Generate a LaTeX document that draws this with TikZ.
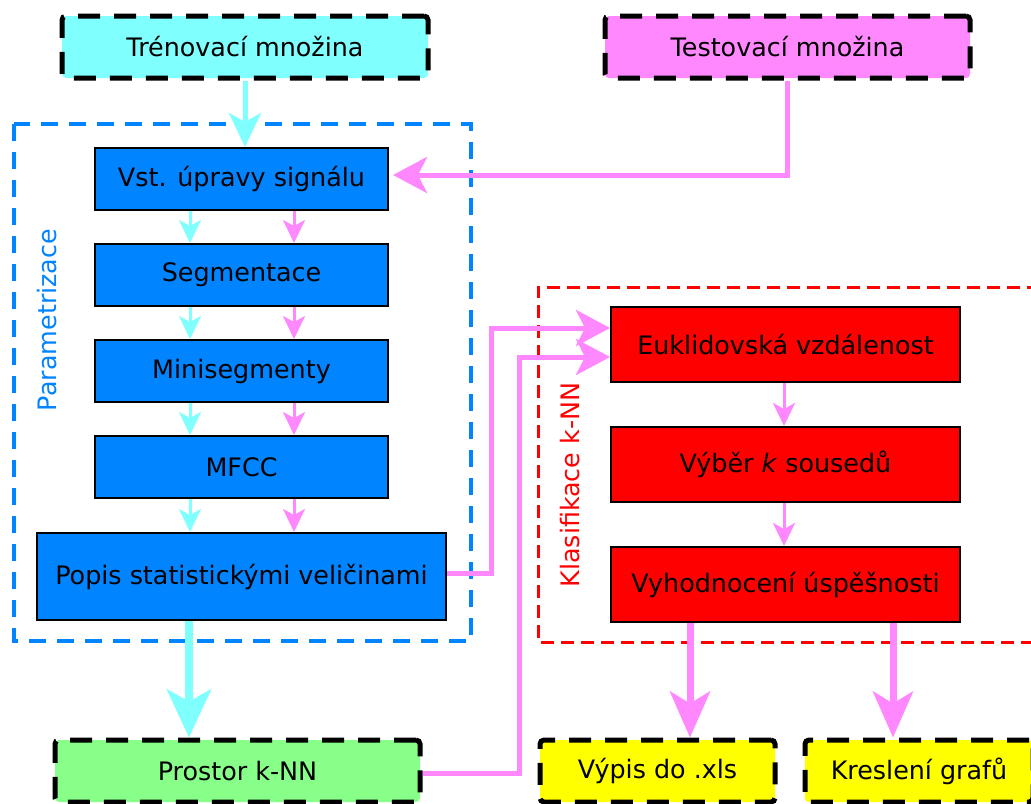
\documentclass[tikz,border=0pt]{standalone}
\usepackage{fontspec}
\setmainfont{DejaVu Sans}
\usetikzlibrary{arrows.meta,calc}
\definecolor{cyanc}{RGB}{128,255,255}
\definecolor{magc}{RGB}{255,136,255}
\definecolor{bluec}{RGB}{0,132,255}
\definecolor{greenc}{RGB}{136,255,136}
\definecolor{yelc}{RGB}{255,255,0}
\definecolor{redc}{RGB}{255,0,0}
\tikzset{
  blk/.style={draw=black, line width=1pt, fill=bluec, minimum width=146.5pt, minimum height=31pt, inner sep=0pt},
  redbox/.style={draw=black, line width=1pt, fill=redc, minimum width=174.5pt, minimum height=37.5pt, inner sep=0pt},
  term/.style={draw=black, line width=2.5pt, dash pattern=on 11pt off 7pt, rounded corners=2pt, minimum height=31pt, inner sep=0pt},
  thinc/.style={draw=cyanc, line width=1.5pt, -{Stealth[length=11.5pt,width=11pt,inset=3pt]}},
  thinm/.style={draw=magc, line width=1.5pt, -{Stealth[length=11.5pt,width=11pt,inset=3pt]}},
  medc/.style={draw=cyanc, line width=2.5pt, -{Stealth[length=17pt,width=16pt,inset=4.5pt]}},
  medm/.style={draw=magc, line width=2.5pt, -{Stealth[length=17pt,width=18pt,inset=4.5pt]}},
  bigc/.style={draw=cyanc, line width=4pt, -{Stealth[length=24pt,width=22pt,inset=6pt]}},
  bigm/.style={draw=magc, line width=3.5pt, -{Stealth[length=23pt,width=20pt,inset=6pt]}},
  grp/.style={line width=2pt, dash pattern=on 8.5pt off 5.5pt},
}
\begin{document}
\begin{tikzpicture}[x=0.5pt,y=-0.5pt, font=\fontsize{12.7pt}{15pt}\selectfont]
\useasboundingbox (0,0) rectangle (1031,803);

% group frames
\draw[grp, draw=bluec] (14,124) rectangle (471,641);
\draw[draw=redc, line width=1.5pt, dash pattern=on 6.5pt off 3.5pt] (1040,287) -- (538,287) -- (538,642) -- (1040,642);
\node[rotate=90, text=bluec] (lpar) at (47,320) {Parametrizace};
\node[rotate=90, text=redc] (lkla) at (570,485) {Klasifikace k-NN};

% terminals
\node[term, fill=cyanc, minimum width=183pt] (train) at (245,47) {Trénovací množina};
\node[term, fill=magc, minimum width=182.5pt] (test) at (787.5,47) {Testovací množina};
\node[term, fill=greenc, minimum width=182.5pt] (prostor) at (237.5,771) {Prostor k-NN};
\node[term, fill=yelc, minimum width=117.5pt] (vypis) at (657.5,771) {Výpis do .xls};
\node[term, fill=yelc, minimum width=114pt] (kresl) at (919,771) {Kreslení grafů};

% parametrization blocks
\node[blk] (vst) at (241.5,179) {Vst. úpravy signálu};
\node[blk] (seg) at (241.5,275) {Segmentace};
\node[blk] (mini) at (241.5,371) {Minisegmenty};
\node[blk] (mfcc) at (241.5,467) {MFCC};
\node[blk, minimum width=204.5pt, minimum height=43.5pt] (popis) at (241.5,576.5) {Popis statistickými veličinami};

% classification blocks
\node[redbox] (euk) at (785.5,344.5) {Euklidovská vzdálenost};
\node[redbox] (vyber) at (785.5,464.5) {Výběr \textit{k} sousedů};
\node[redbox] (vyhod) at (785.5,584.5) {Vyhodnocení úspěšnosti};

% input arrows
\draw[medc] (train.south) -- (train.south |- vst.north);
\draw[medm] (test.south) |- ($(vst.east)+(4,-4)$);

% small arrows between blocks
\foreach \a/\b in {vst/seg, seg/mini, mini/mfcc, mfcc/popis}{
  \draw[thinc] ($(\a.south)+(-51.5,0)$) coordinate (c1) -- (c1 |- \b.north);
  \draw[thinm] ($(\a.south)+(52.5,0)$) coordinate (m1) -- (m1 |- \b.north);
}

% to k-NN space
\draw[bigc] ($(popis.south)+(-52.5,0)$) coordinate (pc) -- (pc |- prostor.north);

% to Euclid
\draw[medm] ($(popis.east)+(0,-3.5)$) -- ++(44,0) |- ($(euk.west)+(0,-16.5)$);
\draw[medm] ($(prostor.east)+(0,2)$) -- ++(96.5,0) |- ($(euk.west)+(0,12.5)$);

% classification chain
\draw[thinm] ($(euk.south)+(-1.5,0)$) coordinate (e1) -- (e1 |- vyber.north);
\draw[thinm] ($(vyber.south)+(-1.5,0)$) coordinate (e2) -- (e2 |- vyhod.north);

% outputs
\draw[bigm] ($(vyhod.south)+(-95.5,0)$) coordinate (o1) -- (o1 |- vypis.north);
\draw[bigm] ($(vyhod.south)+(107.5,0)$) coordinate (o2) -- (o2 |- kresl.north);
\end{tikzpicture}
\end{document}
